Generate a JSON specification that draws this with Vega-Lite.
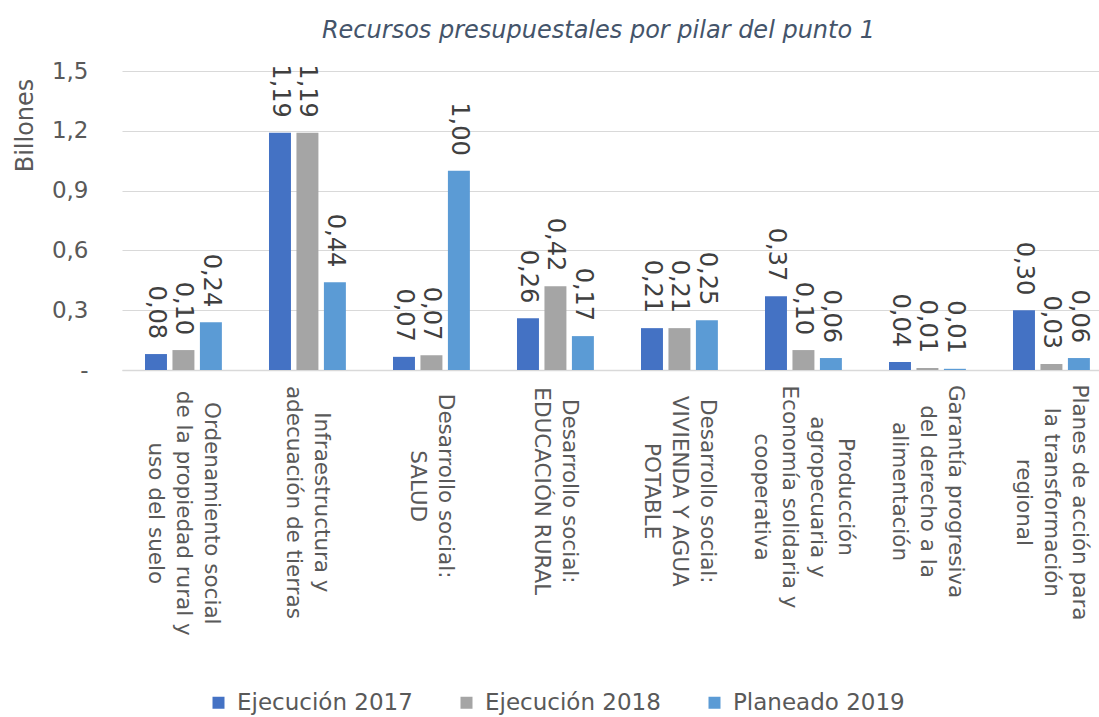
{
  "$schema": "https://vega.github.io/schema/vega-lite/v6.json",
  "autosize": "none",
  "width": 977,
  "height": 299,
  "padding": {"left": 122, "top": 71, "right": 0, "bottom": 347},
  "background": "white",
  "config": {
    "font": "DejaVu Sans",
    "view": {"stroke": null},
    "locale": {"number": {"decimal": ",", "thousands": ".", "grouping": [3], "currency": ["$", ""]}}
  },
  "title": {
    "text": "Recursos presupuestales por pilar del punto 1",
    "fontStyle": "italic",
    "fontWeight": "normal",
    "fontSize": 24,
    "color": "#44546A",
    "font": "DejaVu Sans",
    "anchor": "middle",
    "offset": 17,
    "dx": -12
  },
  "data": {
    "values": [
      {"pilar": "Ordenamiento social|de la propiedad rural y|uso del suelo", "serie": "Ejecución 2017", "valor": 0.08},
      {"pilar": "Ordenamiento social|de la propiedad rural y|uso del suelo", "serie": "Ejecución 2018", "valor": 0.10},
      {"pilar": "Ordenamiento social|de la propiedad rural y|uso del suelo", "serie": "Planeado 2019", "valor": 0.24},
      {"pilar": "Infraestructura y|adecuación de tierras", "serie": "Ejecución 2017", "valor": 1.19},
      {"pilar": "Infraestructura y|adecuación de tierras", "serie": "Ejecución 2018", "valor": 1.19},
      {"pilar": "Infraestructura y|adecuación de tierras", "serie": "Planeado 2019", "valor": 0.44},
      {"pilar": "Desarrollo social:|SALUD", "serie": "Ejecución 2017", "valor": 0.066},
      {"pilar": "Desarrollo social:|SALUD", "serie": "Ejecución 2018", "valor": 0.074},
      {"pilar": "Desarrollo social:|SALUD", "serie": "Planeado 2019", "valor": 1.00},
      {"pilar": "Desarrollo social:|EDUCACIÓN RURAL", "serie": "Ejecución 2017", "valor": 0.26},
      {"pilar": "Desarrollo social:|EDUCACIÓN RURAL", "serie": "Ejecución 2018", "valor": 0.42},
      {"pilar": "Desarrollo social:|EDUCACIÓN RURAL", "serie": "Planeado 2019", "valor": 0.17},
      {"pilar": "Desarrollo social:|VIVIENDA Y AGUA|POTABLE", "serie": "Ejecución 2017", "valor": 0.21},
      {"pilar": "Desarrollo social:|VIVIENDA Y AGUA|POTABLE", "serie": "Ejecución 2018", "valor": 0.21},
      {"pilar": "Desarrollo social:|VIVIENDA Y AGUA|POTABLE", "serie": "Planeado 2019", "valor": 0.25},
      {"pilar": "Producción|agropecuaria y|Economía solidaria y|cooperativa", "serie": "Ejecución 2017", "valor": 0.37},
      {"pilar": "Producción|agropecuaria y|Economía solidaria y|cooperativa", "serie": "Ejecución 2018", "valor": 0.10},
      {"pilar": "Producción|agropecuaria y|Economía solidaria y|cooperativa", "serie": "Planeado 2019", "valor": 0.06},
      {"pilar": "Garantía progresiva|del derecho a la|alimentación", "serie": "Ejecución 2017", "valor": 0.04},
      {"pilar": "Garantía progresiva|del derecho a la|alimentación", "serie": "Ejecución 2018", "valor": 0.01},
      {"pilar": "Garantía progresiva|del derecho a la|alimentación", "serie": "Planeado 2019", "valor": 0.006},
      {"pilar": "Planes de acción para|la transformación|regional", "serie": "Ejecución 2017", "valor": 0.30},
      {"pilar": "Planes de acción para|la transformación|regional", "serie": "Ejecución 2018", "valor": 0.03},
      {"pilar": "Planes de acción para|la transformación|regional", "serie": "Planeado 2019", "valor": 0.06}
    ]
  },
  "encoding": {
    "x": {
      "field": "pilar",
      "type": "nominal",
      "sort": null,
      "scale": {"paddingInner": 0.38, "paddingOuter": 0.1295, "align": 0.716},
      "axis": {
        "title": null,
        "labelAngle": 90,
        "labelAlign": "center",
        "labelBaseline": "middle",
        "labelExpr": "split(datum.label, '|')",
        "labelFontSize": 21.5,
        "labelLineHeight": 28,
        "labelColor": "#595959",
        "labelLimit": 400,
        "labelOffset": {"expr": "(length(split(datum.value,'|'))-1)*14"},
        "labelPadding": {"expr": "18 + max(length(split(datum.value,'|')[0]) * (upper(split(datum.value,'|')[0]) == split(datum.value,'|')[0] ? 13.7 : 10.85), length(split(datum.value,'|')) > 1 ? length(split(datum.value,'|')[1]) * (upper(split(datum.value,'|')[1]) == split(datum.value,'|')[1] ? 13.7 : 10.85) : 0, length(split(datum.value,'|')) > 2 ? length(split(datum.value,'|')[2]) * (upper(split(datum.value,'|')[2]) == split(datum.value,'|')[2] ? 13.7 : 10.85) : 0, length(split(datum.value,'|')) > 3 ? length(split(datum.value,'|')[3]) * (upper(split(datum.value,'|')[3]) == split(datum.value,'|')[3] ? 13.7 : 10.85) : 0) / 2"},
        "ticks": false,
        "domainColor": "#D9D9D9",
        "domainWidth": 1.5
      }
    },
    "xOffset": {
      "field": "serie",
      "type": "nominal",
      "scale": {"paddingInner": 0.2, "paddingOuter": 0}
    },
    "y": {
      "field": "valor",
      "type": "quantitative",
      "scale": {"domain": [0, 1.5], "nice": false},
      "axis": {
        "title": "Billones",
        "titleFontSize": 24,
        "titleFontWeight": "normal",
        "titleColor": "#595959",
        "titleX": -97,
        "titleY": 54,
        "titleAngle": 270,
        "titleAlign": "center",
        "titleBaseline": "middle",
        "values": [0, 0.3, 0.6, 0.9, 1.2, 1.5],
        "format": ".1f",
        "labelExpr": "datum.value == 0 ? '-' : datum.label",
        "labelFontSize": 23,
        "labelColor": "#595959",
        "labelPadding": 34,
        "ticks": false,
        "domain": false,
        "gridColor": "#D9D9D9",
        "gridWidth": 1.2
      }
    }
  },
  "layer": [
    {
      "mark": {"type": "bar"},
      "encoding": {
        "color": {
          "field": "serie",
          "type": "nominal",
          "scale": {"domain": ["Ejecución 2017", "Ejecución 2018", "Planeado 2019"], "range": ["#4472C4", "#A5A5A5", "#5B9BD5"]},
          "legend": {
            "title": null,
            "orient": "none",
            "legendX": 85,
            "legendY": 620,
            "direction": "horizontal",
            "symbolType": "square",
            "symbolSize": 144,
            "symbolStrokeWidth": 0,
            "labelFontSize": 23,
            "labelColor": "#595959",
            "labelLimit": 400,
            "columnPadding": 42,
            "labelOffset": 7,
            "padding": 0
          }
        }
      }
    },
    {
      "mark": {"type": "text", "angle": 90, "align": "right", "baseline": "middle", "dx": -15, "fontSize": 24, "color": "#404040"},
      "encoding": {
        "text": {"field": "valor", "type": "quantitative", "format": ".2f"}
      }
    }
  ]
}
